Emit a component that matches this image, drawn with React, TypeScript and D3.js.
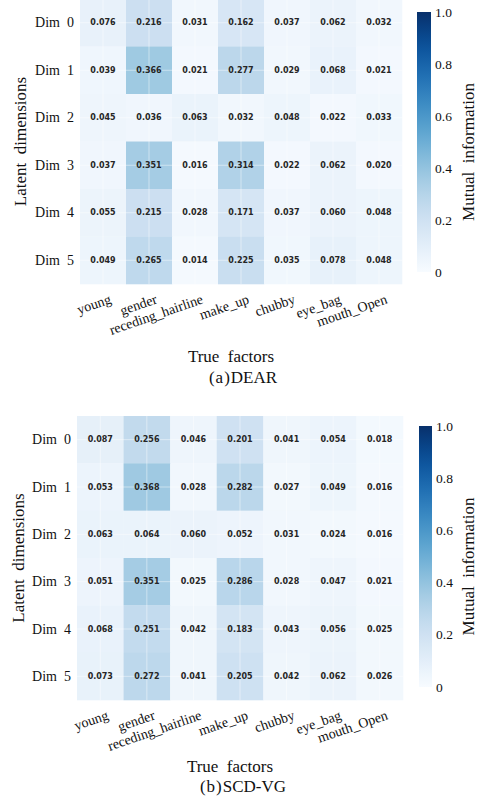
import React from "react";
import * as d3 from "d3";

const factors = ["young", "gender", "receding_hairline", "make_up", "chubby", "eye_bag", "mouth_Open"];
const dims = ["Dim  0", "Dim  1", "Dim  2", "Dim  3", "Dim  4", "Dim  5"];
const cbarTicks = [0, 0.2, 0.4, 0.6, 0.8, 1.0];

const dearDim0 = [0.076, 0.216, 0.031, 0.162, 0.037, 0.062, 0.032];
const dearDim1 = [0.039, 0.366, 0.021, 0.277, 0.029, 0.068, 0.021];
const dearDim2 = [0.045, 0.036, 0.063, 0.032, 0.048, 0.022, 0.033];
const dearDim3 = [0.037, 0.351, 0.016, 0.314, 0.022, 0.062, 0.020];
const dearDim4 = [0.055, 0.215, 0.028, 0.171, 0.037, 0.060, 0.048];
const dearDim5 = [0.049, 0.265, 0.014, 0.225, 0.035, 0.078, 0.048];

const scdDim0 = [0.087, 0.256, 0.046, 0.201, 0.041, 0.054, 0.018];
const scdDim1 = [0.053, 0.368, 0.028, 0.282, 0.027, 0.049, 0.016];
const scdDim2 = [0.063, 0.064, 0.060, 0.052, 0.031, 0.024, 0.016];
const scdDim3 = [0.051, 0.351, 0.025, 0.286, 0.028, 0.047, 0.021];
const scdDim4 = [0.068, 0.251, 0.042, 0.183, 0.043, 0.056, 0.025];
const scdDim5 = [0.073, 0.272, 0.041, 0.205, 0.042, 0.062, 0.026];

const dearMatrix = [dearDim0, dearDim1, dearDim2, dearDim3, dearDim4, dearDim5];
const scdMatrix = [scdDim0, scdDim1, scdDim2, scdDim3, scdDim4, scdDim5];

const SERIF = "Liberation Serif, serif";
const color = d3.scaleSequential(d3.interpolateBlues).domain([0, 1]);

type PanelCfg = {
  id: string;
  matrix: number[][];
  capLabel: string;
  capName: string;
  left: number; right: number; top: number; bottom: number;
  cbX: number; cbW: number; cbTop: number; cbBottom: number;
  xLabBase: number; titleY: number; captionY: number;
  yLabX: number; miX: number;
};

const panels: PanelCfg[] = [
  {
    id: "a", matrix: dearMatrix, capLabel: "a", capName: "DEAR",
    left: 80, right: 402, top: -1, bottom: 284,
    cbX: 417, cbW: 14, cbTop: 12, cbBottom: 272,
    xLabBase: 303, titleY: 362, captionY: 383,
    yLabX: 26, miX: 474,
  },
  {
    id: "b", matrix: scdMatrix, capLabel: "b", capName: "SCD-VG",
    left: 77, right: 403, top: 416, bottom: 700,
    cbX: 419, cbW: 13, cbTop: 426, cbBottom: 687,
    xLabBase: 719, titleY: 772, captionY: 792,
    yLabX: 24, miX: 474,
  },
];

function Panel({ p }: { p: PanelCfg }) {
  const x = d3.scaleBand<string>().domain(factors).range([p.left, p.right]);
  const y = d3.scaleBand<string>().domain(dims).range([p.top, p.bottom]);
  const cb = d3.scaleLinear().domain([0, 1]).range([p.cbBottom, p.cbTop]);
  const gradId = "grad-" + p.id;
  const stops = d3.range(0, 1.0001, 0.05);
  const midY = (p.top + p.bottom) / 2;
  return (
    <g>
      <defs>
        <linearGradient id={gradId} x1="0" y1="1" x2="0" y2="0">
          {stops.map((s) => (
            <stop key={s} offset={s} stopColor={color(s)} />
          ))}
        </linearGradient>
      </defs>
      {p.matrix.map((row, ri) =>
        row.map((v, ci) => (
          <rect
            key={`c${ri}-${ci}`}
            x={x(factors[ci])!}
            y={y(dims[ri])!}
            width={x.bandwidth() + 0.3}
            height={y.bandwidth() + 0.3}
            fill={color(v)}
          />
        ))
      )}
      {factors.map((f) => (
        <line
          key={"vg" + f}
          x1={x(f)! + x.bandwidth() / 2}
          x2={x(f)! + x.bandwidth() / 2}
          y1={p.top}
          y2={p.bottom}
          stroke="#fff"
          strokeOpacity={0.45}
          strokeWidth={1}
        />
      ))}
      {dims.map((d) => (
        <line
          key={"hg" + d}
          x1={p.left}
          x2={p.right}
          y1={y(d)! + y.bandwidth() / 2}
          y2={y(d)! + y.bandwidth() / 2}
          stroke="#fff"
          strokeOpacity={0.45}
          strokeWidth={1}
        />
      ))}
      {p.matrix.map((row, ri) =>
        row.map((v, ci) => (
          <text
            key={`t${ri}-${ci}`}
            x={x(factors[ci])! + x.bandwidth() / 2}
            y={y(dims[ri])! + y.bandwidth() / 2}
            textAnchor="middle"
            dominantBaseline="central"
            fontFamily="DejaVu Sans, sans-serif"
            fontWeight="bold"
            fontSize={8}
            fill="#262626"
          >
            {v.toFixed(3)}
          </text>
        ))
      )}
      {dims.map((d) => (
        <text
          key={"yl" + d}
          x={p.left - 6}
          y={y(d)! + y.bandwidth() / 2}
          textAnchor="end"
          dominantBaseline="central"
          fontFamily={SERIF}
          fontSize={14}
          fill="#111"
          style={{ whiteSpace: "pre" }}
        >
          {d}
        </text>
      ))}
      {factors.map((f) => {
        const cx = x(f)! + x.bandwidth() / 2 + 9;
        return (
          <text
            key={"xl" + f}
            transform={`translate(${cx},${p.xLabBase}) rotate(-19)`}
            textAnchor="end"
            fontFamily={SERIF}
            fontSize={14}
            fill="#111"
          >
            {f}
          </text>
        );
      })}
      <text
        transform={`translate(${p.yLabX},${midY}) rotate(-90)`}
        textAnchor="middle"
        fontFamily={SERIF}
        fontSize={17}
        fill="#111"
        style={{ whiteSpace: "pre" }}
      >
        {"Latent  dimensions"}
      </text>
      <text
        x={(p.left + p.right) / 2 - 10}
        y={p.titleY}
        textAnchor="middle"
        fontFamily={SERIF}
        fontSize={17}
        fill="#111"
        style={{ whiteSpace: "pre" }}
      >
        {"True  factors"}
      </text>
      <text
        x={243}
        y={p.captionY}
        textAnchor="middle"
        fontFamily={SERIF}
        fontSize={17}
        fill="#111"
      >
        <tspan>(</tspan>
        <tspan dx={1}>{p.capLabel}</tspan>
        <tspan dx={1}>)</tspan>
        <tspan dx={1}>{p.capName}</tspan>
      </text>
      <rect
        x={p.cbX}
        y={p.cbTop}
        width={p.cbW}
        height={p.cbBottom - p.cbTop}
        fill={`url(#${gradId})`}
      />
      {cbarTicks.map((t) => (
        <text
          key={"cb" + t}
          x={p.cbX + p.cbW + 4}
          y={cb(t)}
          dominantBaseline="central"
          fontFamily={SERIF}
          fontSize={13.5}
          fill="#111"
        >
          {t === 0 ? "0" : t.toFixed(1)}
        </text>
      ))}
      <text
        transform={`translate(${p.miX},${(p.cbTop + p.cbBottom) / 2 + 10}) rotate(-90)`}
        textAnchor="middle"
        fontFamily={SERIF}
        fontSize={17}
        fill="#111"
        style={{ whiteSpace: "pre" }}
      >
        {"Mutual  information"}
      </text>
    </g>
  );
}

export default function App() {
  return (
    <svg
      width={486}
      height={809}
      style={{ position: "absolute", left: 0, top: 0, background: "#fff" }}
    >
      <rect x={0} y={0} width={486} height={809} fill="#fff" />
      {panels.map((p) => (
        <Panel key={p.id} p={p} />
      ))}
    </svg>
  );
}
